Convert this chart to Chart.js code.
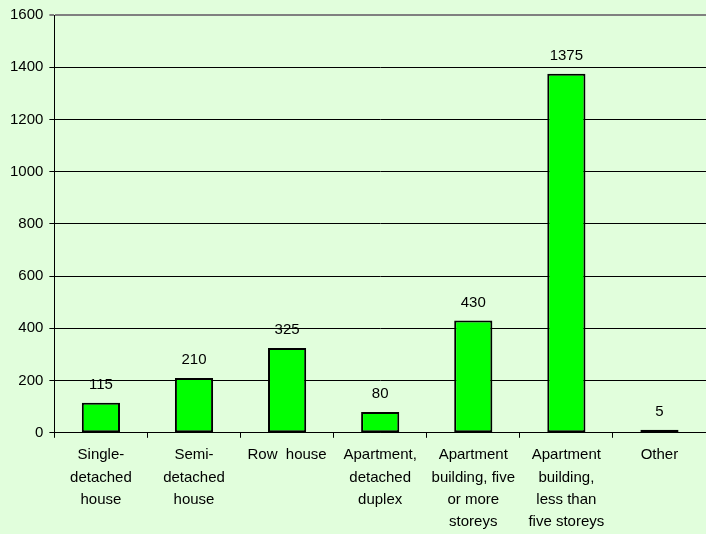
<!DOCTYPE html>
<html>
<head>
<meta charset="utf-8">
<script src="https://cdn.jsdelivr.net/npm/chart.js@4"></script>
<style>
html,body{margin:0;padding:0;background:#E1FEDC;}
#wrap{width:706px;height:534px;}
</style>
</head>
<body>
<div id="wrap"><canvas id="c" width="706" height="534"></canvas></div>
<script>
const categories = [
  ["Single-","detached","house"],
  ["Semi-","detached","house"],
  ["Row  house"],
  ["Apartment,","detached","duplex"],
  ["Apartment","building, five","or more","storeys"],
  ["Apartment","building,","less than","five storeys"],
  ["Other"]
];
const values = [115, 210, 325, 80, 430, 1375, 5];
const yTicks = [0, 200, 400, 600, 800, 1000, 1200, 1400, 1600];

const FONT = '"Liberation Sans", Arial, sans-serif';

const bgPlugin = {
  id: 'bg',
  beforeDraw(chart) {
    const ctx = chart.ctx;
    ctx.save();
    ctx.fillStyle = '#E1FEDC';
    ctx.fillRect(0, 0, chart.width, chart.height);
    ctx.restore();
  }
};
const labelPlugin = {
  id: 'vals',
  afterDatasetsDraw(chart) {
    const ctx = chart.ctx;
    const meta = chart.getDatasetMeta(0);
    ctx.save();
    ctx.font = '15px ' + FONT;
    ctx.fillStyle = '#000';
    ctx.textAlign = 'center';
    ctx.textBaseline = 'middle';
    meta.data.forEach((bar, i) => {
      ctx.fillText(String(values[i]), bar.x, bar.y - 18);
    });
    ctx.restore();
  }
};

new Chart(document.getElementById('c'), {
  type: 'bar',
  data: {
    labels: categories,
    datasets: [{
      data: values,
      backgroundColor: '#00FF00',
      borderColor: '#000000',
      borderWidth: 2,
      borderSkipped: false,
      categoryPercentage: 1,
      barPercentage: 0.41,
      minBarLength: 3
    }]
  },
  options: {
    responsive: false,
    animation: false,
    layout: { padding: { left: 4, right: 0, top: 7, bottom: -5 } },
    plugins: { legend: { display: false }, tooltip: { enabled: false } },
    scales: {
      x: {
        offset: true,
        grid: { offset: true, drawOnChartArea: false, drawTicks: true, tickLength: 5, color: '#000' },
        border: { color: '#000', width: 1 },
        ticks: {
          color: '#000',
          font: { family: FONT, size: 15, lineHeight: 1.47 },
          padding: 6.5,
          maxRotation: 0,
          autoSkip: false
        }
      },
      y: {
        min: 0, max: 1600,
        afterBuildTicks(axis) { axis.ticks = yTicks.map(v => ({ value: v })); },
        grid: {
          color: (c) => (c.tick && c.tick.value === 1600) ? '#808080' : '#000',
          lineWidth: (c) => (c.tick && c.tick.value === 1600) ? 2 : 1,
          tickLength: 5
        },
        border: { color: '#000', width: 1 },
        ticks: {
          color: '#000',
          font: { family: FONT, size: 15 },
          padding: 6,
          callback: (v) => String(v)
        }
      }
    }
  },
  plugins: [bgPlugin, labelPlugin]
});
</script>
</body>
</html>
